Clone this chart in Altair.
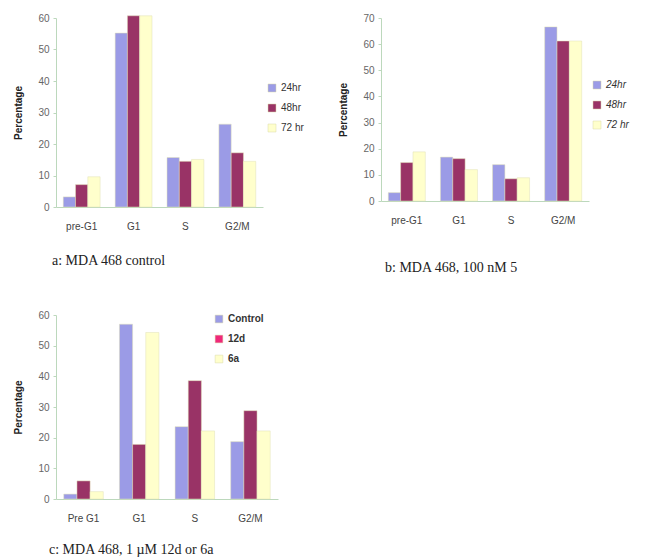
import altair as alt
import pandas as pd

# ---- data ----
phases_ab = ["pre-G1", "G1", "S", "G2/M"]
series_ab = ["24hr", "48hr", "72 hr"]
a_24 = [3.2, 55.2, 15.7, 26.3]
a_48 = [7.1, 60.7, 14.5, 17.2]
a_72 = [9.6, 60.7, 15.1, 14.5]

b_24 = [3.2, 16.8, 13.9, 66.6]
b_48 = [14.7, 16.2, 8.5, 61.2]
b_72 = [18.8, 12.0, 8.9, 61.2]

phases_c = ["Pre G1", "G1", "S", "G2/M"]
series_c = ["Control", "12d", "6a"]
c_ctrl = [1.6, 57.0, 23.6, 18.7]
c_12d = [5.9, 17.8, 38.6, 28.8]
c_6a = [2.4, 54.3, 22.2, 22.2]

bar_colors = ["#9B9BE6", "#993366", "#FFFFCC"]
legend_c_colors = ["#9B9BE6", "#F0287A", "#FFFFCC"]

SANS = "Liberation Sans"
SERIF = "Liberation Serif"
AXIS_COLOR = "#bcd8bc"


def make_df(phases, series, values):
    rows = []
    for s, vals in zip(series, values):
        for p, v in zip(phases, vals):
            rows.append({"phase": p, "series": s, "value": v})
    return pd.DataFrame(rows)


def panel(phases, series, values, ymax, width, height, caption, cap_dx,
          cap_offset, legend_x, legend_y, label_style, label_weight,
          legend_colors=None, symbol_size=64):
    df = make_df(phases, series, values)
    x = alt.X("phase:N", sort=phases,
              scale=alt.Scale(paddingInner=0.29, paddingOuter=0.14),
              axis=alt.Axis(title=None, labelAngle=0, ticks=False,
                            domainColor=AXIS_COLOR, labelPadding=14,
                            labelFont=SANS, labelFontSize=10,
                            labelColor="#444"))
    xo = alt.XOffset("series:N", sort=series,
                     scale=alt.Scale(domain=series, paddingInner=0,
                                     paddingOuter=0))
    y = alt.Y("value:Q", scale=alt.Scale(domain=[0, ymax]),
              axis=alt.Axis(values=list(range(0, ymax + 1, 10)),
                            title="Percentage", grid=False,
                            domainColor=AXIS_COLOR, tickColor=AXIS_COLOR,
                            tickSize=3, labelPadding=4,
                            labelFont=SANS, labelFontSize=10,
                            labelColor="#666", titleFont=SANS,
                            titleFontSize=10, titleFontWeight="bold",
                            titleColor="#222", titlePadding=14))
    leg = alt.Legend(title=None, orient="none", legendX=legend_x,
                     legendY=legend_y, symbolType="square",
                     symbolSize=symbol_size, symbolStrokeColor="#d8d8a8",
                     symbolStrokeWidth=0.5, symbolOpacity=1,
                     labelFont=SANS, labelFontSize=10, labelColor="#333",
                     labelFontStyle=label_style,
                     labelFontWeight=label_weight, rowPadding=10)
    bars_legend = leg if legend_colors is None else None
    bars = alt.Chart(df).mark_bar(stroke="#e0e0b8", strokeWidth=0.5).encode(
        x=x, xOffset=xo, y=y,
        color=alt.Color("series:N", sort=series,
                        scale=alt.Scale(domain=series, range=bar_colors),
                        legend=bars_legend),
    )
    title = alt.TitleParams(caption, orient="bottom", anchor="start",
                            frame="group",
                            font=SERIF, fontSize=14, fontWeight="normal",
                            color="#222", dx=cap_dx, offset=cap_offset)
    if legend_colors is None:
        ch = bars
    else:
        dummy = alt.Chart(df).mark_square(opacity=0).encode(
            x=x, xOffset=xo, y=y,
            fill=alt.Fill("series:N", sort=series,
                          scale=alt.Scale(domain=series, range=legend_colors),
                          legend=leg),
        )
        ch = alt.layer(bars, dummy).resolve_scale(color="independent",
                                                  fill="independent")
    return ch.properties(width=width, height=height, title=title)


a = panel(phases_ab, series_ab, [a_24, a_48, a_72], 60, 207, 189,
          "a: MDA 468 control", -4, 23, 211, 65, "normal", "normal")
b = panel(phases_ab, series_ab, [b_24, b_48, b_72], 70, 208, 183,
          "b: MDA 468, 100 nM 5", 4, 36, 211, 62, "italic", "normal")
c = panel(phases_c, series_c, [c_ctrl, c_12d, c_6a], 60, 222, 184,
          "c: MDA 468, 1 \u00b5M 12d or 6a", -7, 20, 158, -1, "normal",
          "bold", legend_colors=legend_c_colors, symbol_size=60)

row = alt.hconcat(a, b, spacing=34).resolve_scale(
    x="independent", y="independent", xOffset="independent",
    color="independent", fill="independent"
).resolve_legend(color="independent", fill="independent")

chart = alt.vconcat(row, c, spacing=35).resolve_scale(
    x="independent", y="independent", xOffset="independent",
    color="independent", fill="independent"
).resolve_legend(color="independent", fill="independent"
).properties(padding=5, background="white"
).configure_view(strokeWidth=0, stroke="transparent")

chart.save("out.html", embed_options={"renderer": "svg", "actions": False})
